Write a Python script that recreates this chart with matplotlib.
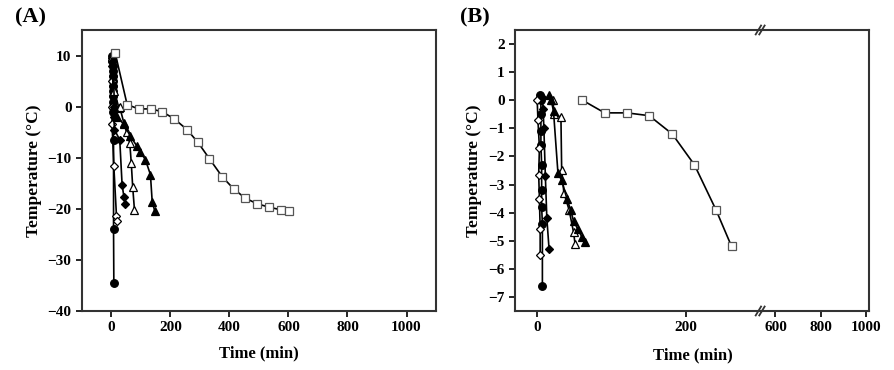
import matplotlib.pyplot as plt

plt.rcParams['font.family'] = ['Liberation Serif', 'DejaVu Serif']
plt.rcParams['font.weight'] = 'bold'

# ---- panel A data (time in min, temperature in C) ----
a_circle_t = [3, 3, 4, 4, 4, 5, 5, 5, 5, 6, 6, 6, 7, 7, 8]
a_circle_T = [10, 9, 8, 7, 6, 5, 4, 3, 2, 1, 0, -1, -6.5, -24, -34.6]
a_odiam_t = [1, 1, 2, 2, 8, 17, 19]
a_odiam_T = [9, 5, 0, -3.5, -11.7, -21.5, -22.4]
a_fdiam_t = [2, 3, 4, 5, 6, 7, 8, 10, 28, 36, 42, 47]
a_fdiam_T = [9.5, 8, 6, 4, 2, 0, -2, -4.5, -6.5, -15.3, -17.6, -19.0]
a_otri_t = [3, 10, 25, 28, 42, 51, 62, 67, 72, 78]
a_otri_T = [9.8, 3, -0.25, -0.1, -3.2, -5.0, -7.1, -11.0, -15.8, -20.3]
a_ftri_t = [5, 10, 20, 42, 64, 87, 98, 115, 132, 138, 147]
a_ftri_T = [9.5, 0, -2, -3.5, -5.8, -7.8, -8.8, -10.4, -13.3, -18.6, -20.5]
a_sq_t = [13, 53, 92, 134, 172, 213, 256, 293, 332, 375, 414, 453, 493, 535, 575, 603]
a_sq_T = [10.4, 0.4, -0.45, -0.45, -1.0, -2.4, -4.5, -7.0, -10.2, -13.7, -16.1,
          -17.9, -19.0, -19.7, -20.2, -20.5]

# ---- panel B data ----
b_circle_t = [4, 5, 5, 5, 5, 6, 6, 6, 7, 7]
b_circle_T = [0.2, 0.0, -0.5, -1.1, -1.6, -2.3, -3.2, -3.8, -4.4, -6.6]
b_odiam_t = [0, 1, 3, 2, 3, 4, 4]
b_odiam_T = [0, -0.7, -1.7, -2.65, -3.5, -4.6, -5.5]
b_fdiam_t = [7, 8, 9, 11, 13, 16]
b_fdiam_T = [0.1, -0.3, -1.0, -2.7, -4.2, -5.3]
b_otri_t = [21, 23, 32, 33, 36, 43, 49, 51]
b_otri_T = [0.0, -0.5, -0.6, -2.5, -3.3, -3.9, -4.7, -5.1]
b_ftri_t = [16, 19, 22, 28, 33, 40, 45, 49, 55, 60, 65]
b_ftri_T = [0.2, 0.0, -0.4, -2.6, -2.85, -3.5, -3.9, -4.3, -4.6, -4.85, -5.05]
b_sq_t = [61, 91, 121, 151, 182, 212, 241, 262]
b_sq_T = [0.0, -0.45, -0.45, -0.55, -1.2, -2.3, -3.9, -5.2]

series_a = [
    (a_circle_t, a_circle_T, 'o', 'black'),
    (a_odiam_t, a_odiam_T, 'D', 'white'),
    (a_fdiam_t, a_fdiam_T, 'D', 'black'),
    (a_otri_t, a_otri_T, '^', 'white'),
    (a_ftri_t, a_ftri_T, '^', 'black'),
    (a_sq_t, a_sq_T, 's', 'white'),
]
series_b = [
    (b_circle_t, b_circle_T, 'o', 'black'),
    (b_odiam_t, b_odiam_T, 'D', 'white'),
    (b_fdiam_t, b_fdiam_T, 'D', 'black'),
    (b_otri_t, b_otri_T, '^', 'white'),
    (b_ftri_t, b_ftri_T, '^', 'black'),
    (b_sq_t, b_sq_T, 's', 'white'),
]


def draw(ax, series):
    for t, T, m, fc in series:
        ms = 4.5 if m == 'D' else 5.5
        ec = '#555555' if m == 's' else 'black'
        ax.plot(t, T, color='black', lw=1.2, marker=m, ms=ms, mfc=fc, mec=ec, mew=0.9)


def style(ax):
    for s in ax.spines.values():
        s.set_linewidth(1.5)
        s.set_color('#333333')
    ax.tick_params(direction='out', length=4, width=1.2, labelsize=11)
    for lab in ax.get_xticklabels() + ax.get_yticklabels():
        lab.set_fontweight('bold')


fig = plt.figure(figsize=(8.94, 3.70), dpi=100)

# panel A
axA = fig.add_axes([0.0917, 0.1595, 0.396, 0.7595])
draw(axA, series_a)
axA.set_xlim(-100, 1100)
axA.set_ylim(-40, 15)
axA.set_xticks([0, 200, 400, 600, 800, 1000])
axA.set_yticks([10, 0, -10, -20, -30, -40])
style(axA)
axA.set_xlabel('Time (min)', fontsize=12, fontweight='bold', labelpad=8)
axA.set_ylabel('Temperature (\u00b0C)', fontsize=12.5, fontweight='bold', labelpad=4)
fig.text(0.017, 0.94, '(A)', fontsize=16, fontweight='bold')

# panel B, broken x axis
axB1 = fig.add_axes([0.576, 0.1595, 0.2763, 0.7595])
axB2 = fig.add_axes([0.8523, 0.1595, 0.1197, 0.7595])
draw(axB1, series_b)
axB1.set_xlim(-30, 303)
axB2.set_xlim(540, 1015)
for ax in (axB1, axB2):
    ax.set_ylim(-7.5, 2.5)
axB1.set_xticks([0, 200])
axB1.set_yticks(list(range(2, -8, -1)))
axB2.set_xticks([600, 800, 1000])
axB2.set_yticks([])
style(axB1)
style(axB2)
axB1.spines['right'].set_visible(False)
axB2.spines['left'].set_visible(False)
axB1.set_ylabel('Temperature (\u00b0C)', fontsize=12.5, fontweight='bold', labelpad=4)
fig.text(0.775, 0.04, 'Time (min)', fontsize=12, fontweight='bold', ha='center', va='center')
fig.text(0.514, 0.94, '(B)', fontsize=16, fontweight='bold')

# break marks
bx = 0.8523
for by in (0.1595, 0.919):
    for dx in (-0.004, 0.0):
        fig.add_artist(plt.Line2D([bx + dx - 0.003, bx + dx + 0.003], [by - 0.012, by + 0.012],
                                  color='#333333', lw=1.3))

fig.savefig('out.png', dpi=100)
